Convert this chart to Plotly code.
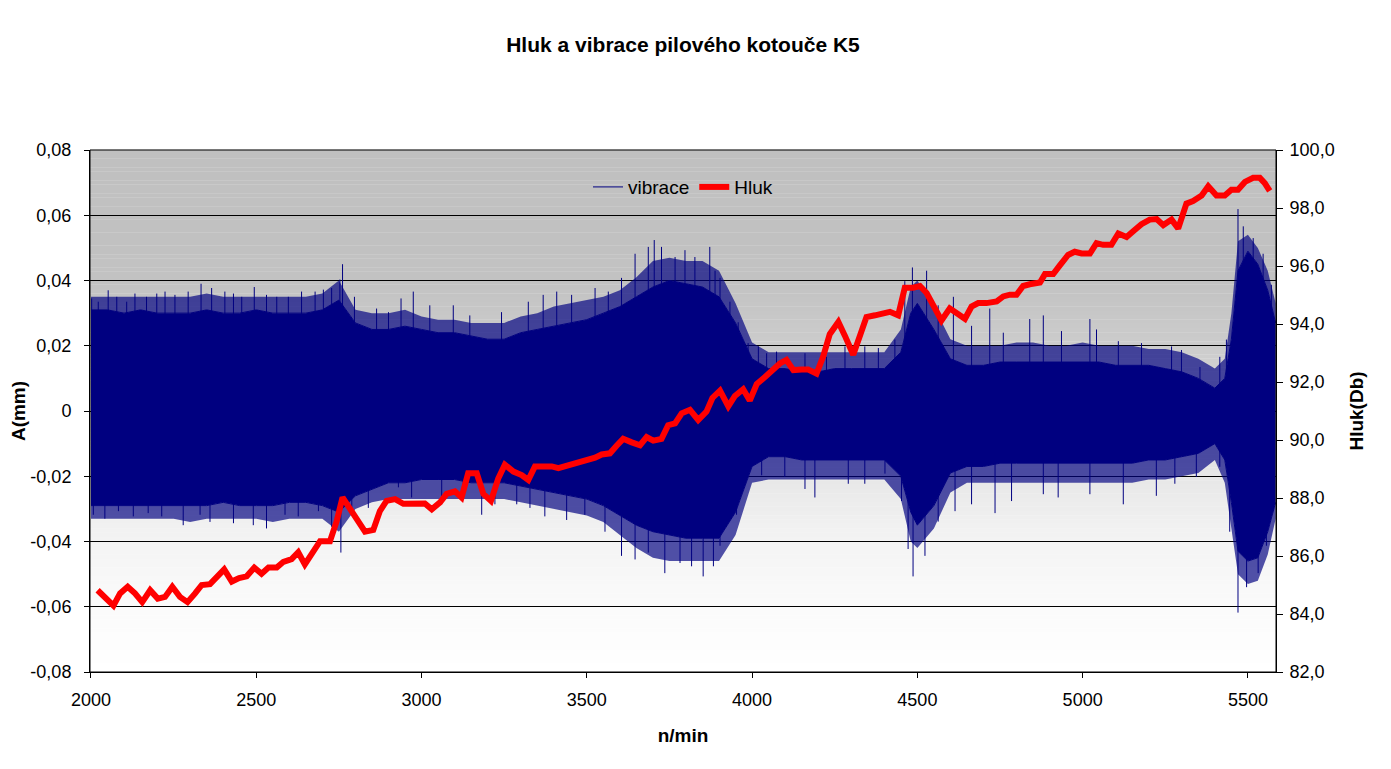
import plotly.graph_objects as go

# ---------------- data ----------------
# Hluk (noise, right axis, dB) vs n/min
hluk_x = [2020, 2042, 2068, 2088, 2111, 2133, 2155, 2179, 2202, 2224, 2246, 2269, 2292, 2315, 2335,
          2360, 2383, 2403, 2426, 2448, 2471, 2494, 2516, 2537, 2562, 2582, 2607, 2627, 2647, 2673,
          2693, 2723, 2743, 2761, 2789, 2829, 2854, 2874, 2894, 2920, 2945, 3010, 3031, 3056, 3076,
          3101, 3121, 3141, 3167, 3187, 3210, 3232, 3252, 3278, 3303, 3323, 3343, 3368, 3394, 3414,
          3434, 3459, 3479, 3504, 3525, 3545, 3570, 3590, 3610, 3636, 3661, 3681, 3701, 3726, 3746,
          3767, 3787, 3812, 3837, 3862, 3880, 3903, 3928, 3948, 3973, 3993, 4014, 4039, 4064, 4084,
          4104, 4125, 4150, 4170, 4195, 4215, 4235, 4261, 4281, 4306, 4326, 4346, 4372, 4397, 4417,
          4442, 4462, 4487, 4508, 4528, 4553, 4573, 4598, 4624, 4644, 4664, 4684, 4709, 4740, 4760,
          4780, 4800, 4820, 4840, 4871, 4886, 4911, 4931, 4956, 4976, 4997, 5022, 5042, 5062, 5087,
          5108, 5133, 5153, 5178, 5203, 5224, 5244, 5269, 5289, 5314, 5334, 5360, 5380, 5405, 5430,
          5450, 5470, 5491, 5516, 5536, 5551, 5566]
hluk_y = [84.82, 84.59, 84.29, 84.71, 84.94, 84.71, 84.41, 84.82, 84.53, 84.59, 84.94, 84.59, 84.41, 84.71, 85.00,
          85.03, 85.30, 85.54, 85.12, 85.24, 85.30, 85.60, 85.39, 85.60, 85.60, 85.80, 85.89, 86.13, 85.71, 86.13,
          86.51, 86.51, 87.19, 88.02, 87.55, 86.84, 86.90, 87.55, 87.90, 87.96, 87.80, 87.81, 87.61, 87.85, 88.14,
          88.23, 88.02, 88.85, 88.85, 88.14, 87.90, 88.67, 89.15, 88.91, 88.79, 88.62, 89.09, 89.09, 89.09, 89.03,
          89.09, 89.15, 89.21, 89.33, 89.39, 89.50, 89.54, 89.80, 90.04, 89.92, 89.82, 90.10, 89.98, 90.04, 90.51,
          90.57, 90.92, 91.04, 90.69, 90.98, 91.45, 91.70, 91.16, 91.52, 91.75, 91.36, 91.93, 92.17, 92.47, 92.64,
          92.76, 92.41, 92.43, 92.43, 92.29, 92.88, 93.65, 94.07, 93.59, 92.94, 93.59, 94.24, 94.30, 94.36, 94.42,
          94.30, 95.25, 95.25, 95.31, 95.07, 94.54, 94.12, 94.54, 94.30, 94.18, 94.60, 94.72, 94.72, 94.78, 94.95,
          95.01, 95.01, 95.31, 95.37, 95.43, 95.72, 95.72, 96.02, 96.38, 96.49, 96.43, 96.43, 96.79, 96.73, 96.73,
          97.12, 97.00, 97.20, 97.44, 97.60, 97.62, 97.41, 97.60, 97.29, 98.15, 98.24, 98.43, 98.75, 98.43, 98.43,
          98.63, 98.63, 98.90, 99.04, 99.04, 98.86, 98.59]

# vibrace (A in mm, left axis): solid band and fringe (typical peak tips)
env_x = [2000, 2050, 2100, 2150, 2200, 2250, 2300, 2350, 2400, 2450, 2500, 2550, 2600, 2650, 2700,
         2750, 2800, 2850, 2900, 2950, 3000, 3050, 3100, 3150, 3200, 3250, 3300, 3350, 3400, 3450,
         3500, 3550, 3600, 3650, 3700, 3750, 3800, 3850, 3900, 3950, 4000, 4050, 4100, 4150, 4200,
         4250, 4300, 4350, 4400, 4450, 4480, 4500, 4550, 4600, 4650, 4700, 4750, 4800, 4850, 4900,
         4950, 5000, 5050, 5100, 5150, 5200, 5250, 5300, 5350, 5400, 5430, 5450, 5470, 5500, 5530,
         5560, 5584]
env_upper = [0.031, 0.031, 0.030, 0.031, 0.030, 0.030, 0.030, 0.031, 0.030, 0.030, 0.031, 0.030, 0.030, 0.030, 0.031,
             0.034, 0.027, 0.025, 0.025, 0.026, 0.025, 0.024, 0.024, 0.023, 0.022, 0.022, 0.024, 0.025, 0.026, 0.027,
             0.028, 0.030, 0.032, 0.035, 0.038, 0.040, 0.039, 0.038, 0.035, 0.027, 0.016, 0.013, 0.013, 0.012, 0.012,
             0.013, 0.013, 0.013, 0.013, 0.018, 0.030, 0.033, 0.025, 0.016, 0.014, 0.014, 0.015, 0.015, 0.015, 0.015,
             0.015, 0.015, 0.015, 0.014, 0.014, 0.014, 0.013, 0.012, 0.010, 0.007, 0.010, 0.022, 0.043, 0.049, 0.045,
             0.037, 0.027]
env_lower = [-0.029, -0.029, -0.029, -0.029, -0.029, -0.029, -0.029, -0.029, -0.028, -0.029, -0.029, -0.029, -0.028, -0.028, -0.029,
             -0.031, -0.026, -0.024, -0.022, -0.022, -0.021, -0.021, -0.021, -0.022, -0.022, -0.022, -0.023, -0.024, -0.025, -0.026,
             -0.027, -0.029, -0.032, -0.035, -0.037, -0.038, -0.039, -0.039, -0.039, -0.031, -0.017, -0.014, -0.014, -0.015, -0.015,
             -0.015, -0.015, -0.015, -0.015, -0.020, -0.031, -0.035, -0.029, -0.019, -0.017, -0.017, -0.016, -0.016, -0.016, -0.016,
             -0.016, -0.016, -0.016, -0.016, -0.016, -0.015, -0.015, -0.014, -0.013, -0.010, -0.015, -0.028, -0.043, -0.046, -0.045,
             -0.037, -0.028]
fringe_upper = [0.035, 0.035, 0.035, 0.035, 0.035, 0.035, 0.035, 0.036, 0.035, 0.035, 0.035, 0.035, 0.035, 0.035, 0.036,
                0.040, 0.031, 0.030, 0.030, 0.031, 0.029, 0.028, 0.028, 0.027, 0.027, 0.027, 0.029, 0.030, 0.032, 0.033,
                0.034, 0.035, 0.037, 0.041, 0.046, 0.047, 0.046, 0.046, 0.043, 0.033, 0.021, 0.018, 0.018, 0.018, 0.018,
                0.018, 0.018, 0.018, 0.018, 0.025, 0.038, 0.040, 0.032, 0.022, 0.020, 0.020, 0.020, 0.021, 0.021, 0.020,
                0.020, 0.021, 0.020, 0.020, 0.020, 0.019, 0.019, 0.018, 0.016, 0.013, 0.016, 0.030, 0.052, 0.054, 0.050,
                0.043, 0.033]
fringe_lower = [-0.033, -0.033, -0.033, -0.033, -0.033, -0.033, -0.034, -0.033, -0.033, -0.033, -0.033, -0.034, -0.033, -0.033, -0.033,
                -0.037, -0.030, -0.028, -0.027, -0.027, -0.027, -0.027, -0.027, -0.027, -0.027, -0.027, -0.028, -0.029, -0.030, -0.031,
                -0.032, -0.034, -0.038, -0.042, -0.045, -0.046, -0.046, -0.046, -0.046, -0.038, -0.022, -0.021, -0.021, -0.021, -0.021,
                -0.021, -0.021, -0.021, -0.021, -0.027, -0.040, -0.042, -0.036, -0.025, -0.022, -0.022, -0.022, -0.022, -0.022, -0.022,
                -0.022, -0.022, -0.022, -0.022, -0.022, -0.021, -0.021, -0.020, -0.019, -0.015, -0.022, -0.036, -0.050, -0.053, -0.052,
                -0.044, -0.033]

# individual vibration peaks sticking out of the band
peak_up_x = [2002, 2022, 2052, 2078, 2108, 2133, 2168, 2199, 2224, 2254, 2294, 2333, 2365, 2405, 2431,
             2456, 2494, 2531, 2562, 2597, 2637, 2678, 2703, 2728, 2753, 2761, 2797, 2864, 2900, 2938,
             2975, 3025, 3096, 3146, 3242, 3323, 3368, 3409, 3454, 3525, 3565, 3605, 3646, 3686, 3704,
             3726, 3767, 3797, 3827, 3872, 3888, 3903, 3933, 3958, 3988, 4019, 4044, 4074, 4160, 4225,
             4281, 4341, 4382, 4432, 4462, 4485, 4528, 4563, 4609, 4664, 4719, 4760, 4840, 4881, 4936,
             5022, 5042, 5108, 5178, 5269, 5299, 5355, 5415, 5435, 5470, 5486, 5516, 5546, 5571]
peak_up_y = [0.0345, 0.0335, 0.0370, 0.0350, 0.0335, 0.0360, 0.0350, 0.0360, 0.0366, 0.0356, 0.0366, 0.0390, 0.0377, 0.0366, 0.0360,
             0.0350, 0.0380, 0.0356, 0.0350, 0.0350, 0.0366, 0.0366, 0.0372, 0.0377, 0.0403, 0.0450, 0.0350, 0.0314, 0.0303, 0.0345,
             0.0366, 0.0324, 0.0324, 0.0293, 0.0303, 0.0335, 0.0356, 0.0366, 0.0356, 0.0377, 0.0366, 0.0408, 0.0482, 0.0503, 0.0524,
             0.0503, 0.0472, 0.0493, 0.0472, 0.0503, 0.0430, 0.0408, 0.0335, 0.0272, 0.0208, 0.0198, 0.0177, 0.0182, 0.0177, 0.0166,
             0.0198, 0.0198, 0.0193, 0.0219, 0.0398, 0.0440, 0.0430, 0.0324, 0.0350, 0.0261, 0.0314, 0.0240, 0.0282, 0.0293, 0.0245,
             0.0282, 0.0250, 0.0214, 0.0208, 0.0198, 0.0187, 0.0135, 0.0166, 0.0219, 0.0619, 0.0566, 0.0530, 0.0482, 0.0387]
peak_lo_x = [2007, 2042, 2083, 2128, 2173, 2214, 2279, 2330, 2360, 2431, 2491, 2531, 2587, 2627, 2688,
             2728, 2756, 2789, 2839, 2889, 2930, 2970, 3061, 3126, 3182, 3222, 3288, 3328, 3373, 3439,
             3494, 3555, 3605, 3646, 3686, 3736, 3782, 3817, 3852, 3883, 3903, 3928, 3953, 3978, 4029,
             4099, 4160, 4190, 4291, 4341, 4402, 4452, 4472, 4487, 4523, 4563, 4614, 4664, 4735, 4785,
             4881, 4926, 5022, 5123, 5223, 5279, 5344, 5415, 5445, 5470, 5496, 5531, 5556, 5576]
peak_lo_y = [-0.0318, -0.0330, -0.0307, -0.0323, -0.0313, -0.0323, -0.0350, -0.0318, -0.0340, -0.0344, -0.0350, -0.0360, -0.0318, -0.0323, -0.0307,
             -0.0355, -0.0434, -0.0318, -0.0297, -0.0223, -0.0234, -0.0265, -0.0286, -0.0270, -0.0318, -0.0286, -0.0286, -0.0297, -0.0323, -0.0334,
             -0.0318, -0.0370, -0.0444, -0.0455, -0.0434, -0.0497, -0.0466, -0.0476, -0.0507, -0.0476, -0.0413, -0.0329, -0.0318, -0.0223, -0.0197,
             -0.0202, -0.0239, -0.0265, -0.0223, -0.0223, -0.0192, -0.0276, -0.0423, -0.0507, -0.0444, -0.0339, -0.0307, -0.0286, -0.0313, -0.0276,
             -0.0255, -0.0265, -0.0255, -0.0286, -0.0260, -0.0223, -0.0202, -0.0171, -0.0370, -0.0618, -0.0540, -0.0497, -0.0413, -0.0307]

left_ticks = [-0.08, -0.06, -0.04, -0.02, 0, 0.02, 0.04, 0.06, 0.08]
left_labels = ["-0,08", "-0,06", "-0,04", "-0,02", "0", "0,02", "0,04", "0,06", "0,08"]
right_ticks = [82, 84, 86, 88, 90, 92, 94, 96, 98, 100]
right_labels = ["82,0", "84,0", "86,0", "88,0", "90,0", "92,0", "94,0", "96,0", "98,0", "100,0"]
x_ticks = [2000, 2500, 3000, 3500, 4000, 4500, 5000, 5500]

# ---------------- figure ----------------
NAVY = "#000080"
FRINGE = "rgba(0,0,128,0.68)"
FONT = "Liberation Sans, Arial, sans-serif"

W, H = 1383, 761  # page body has an 8px margin
fig = go.Figure()

# fringe above the solid band
fig.add_trace(go.Scatter(x=env_x, y=fringe_upper, mode="lines", line=dict(width=0),
                         showlegend=False, hoverinfo="skip"))
fig.add_trace(go.Scatter(x=env_x, y=env_upper, mode="lines", line=dict(color=NAVY, width=1),
                         fill="tonexty", fillcolor=FRINGE, showlegend=False, hoverinfo="skip"))
# solid band
fig.add_trace(go.Scatter(x=env_x, y=env_lower, mode="lines", line=dict(color=NAVY, width=1),
                         fill="tonexty", fillcolor=NAVY, showlegend=False, hoverinfo="skip"))
# fringe below the solid band
fig.add_trace(go.Scatter(x=env_x, y=fringe_lower, mode="lines", line=dict(width=0),
                         fill="tonexty", fillcolor=FRINGE, showlegend=False, hoverinfo="skip"))

# peaks as thin vertical strokes
sx, sy = [], []
for px, py in zip(peak_up_x + peak_lo_x, peak_up_y + peak_lo_y):
    sx += [px, px, None]
    sy += [0, py, None]
fig.add_trace(go.Scatter(x=sx, y=sy, mode="lines", line=dict(color=NAVY, width=1),
                         name="vibrace", hoverinfo="skip"))

fig.add_trace(go.Scatter(x=hluk_x, y=hluk_y, mode="lines", name="Hluk", yaxis="y2",
                         line=dict(color="#FF0000", width=6)))

# gradient plot background (grey at top -> white at bottom)
grad_f = [0, 0.25, 0.375, 0.5, 0.625, 0.75, 0.875, 1.0]
grad_g = [0, 0.03, 0.19, 0.40, 0.62, 0.82, 0.93, 1.0]


def gval(f):
    for i in range(len(grad_f) - 1):
        if grad_f[i] <= f <= grad_f[i + 1]:
            t = (f - grad_f[i]) / (grad_f[i + 1] - grad_f[i])
            return grad_g[i] + t * (grad_g[i + 1] - grad_g[i])
    return 1.0


shapes = []
N = 120
for i in range(N):
    f = (i + 0.5) / N
    c = int(round(192 + (255 - 192) * gval(f)))
    shapes.append(dict(type="rect", xref="paper", yref="paper", x0=0, x1=1,
                       y0=1 - (i + 1) / N, y1=1 - i / N + 0.0005,
                       fillcolor=f"rgb({c},{c},{c})", line=dict(width=0), layer="below"))
shapes.append(dict(type="rect", xref="paper", yref="paper", x0=0, x1=1, y0=0, y1=1,
                   line=dict(color="black", width=1), fillcolor="rgba(0,0,0,0)", layer="above"))

L, T = 82, 142
R = W - 1268
B = H - 664

fig.update_layout(
    width=W, height=H,
    margin=dict(l=L, r=R, t=T, b=B, pad=0, autoexpand=False),
    paper_bgcolor="white", plot_bgcolor="white",
    font=dict(family=FONT, size=18, color="black"),
    title=dict(text="<b>Hluk a vibrace pilového kotouče K5</b>", x=(L + 1268) / 2 / W, xanchor="center",
               y=1 - 37 / H, yanchor="middle", font=dict(family=FONT, size=21, color="black")),
    shapes=shapes,
    showlegend=True,
    legend=dict(orientation="h", x=0.5, xanchor="center", y=0.929, yanchor="middle",
                traceorder="normal",
                bgcolor="rgba(0,0,0,0)", font=dict(family=FONT, size=19, color="black"),
                tracegroupgap=0),
    xaxis=dict(range=[1997, 5585], tickvals=x_ticks, ticktext=[str(v) for v in x_ticks],
               showgrid=False, zeroline=False, showline=True, linecolor="black", linewidth=1,
               ticks="outside", ticklen=5, tickcolor="black", ticklabelstandoff=6, automargin=False,
               title=dict(text="<b>n/min</b>", font=dict(family=FONT, size=19), standoff=20),
               tickfont=dict(family=FONT, size=18)),
    yaxis=dict(range=[-0.08, 0.08], tickvals=left_ticks, ticktext=left_labels,
               showgrid=True, gridcolor="black", gridwidth=1, zeroline=False,
               showline=True, linecolor="black", linewidth=1, automargin=False,
               ticks="outside", ticklen=5, tickcolor="black", ticklabelstandoff=9,
               title=dict(text="<b>A(mm)</b>", font=dict(family=FONT, size=19), standoff=8),
               tickfont=dict(family=FONT, size=18)),
    yaxis2=dict(range=[82, 100], tickvals=right_ticks, ticktext=right_labels, overlaying="y", side="right",
                showgrid=False, zeroline=False, showline=True, linecolor="black", linewidth=1,
                ticks="outside", ticklen=6, tickcolor="black", ticklabelstandoff=3, automargin=False,
                title=dict(text="<b>Hluk(Db)</b>", font=dict(family=FONT, size=19), standoff=16),
                tickfont=dict(family=FONT, size=18)),
)

fig.write_html("out.html")
